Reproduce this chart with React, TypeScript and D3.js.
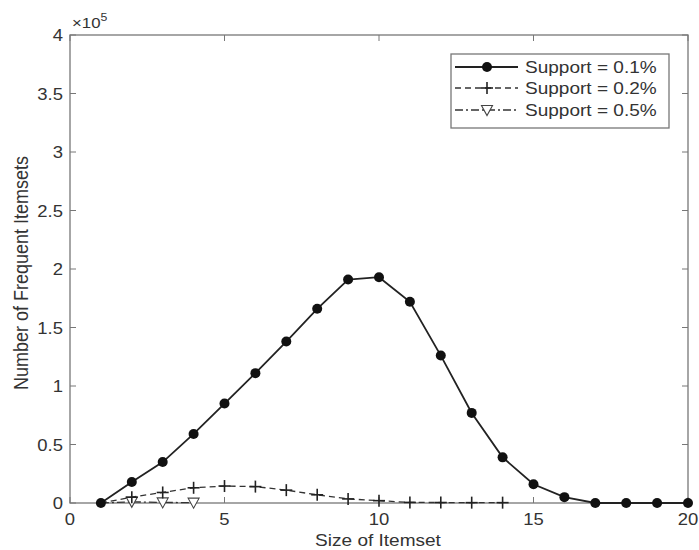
import React from "react";
import * as d3 from "d3";

const sizes = [1, 2, 3, 4, 5, 6, 7, 8, 9, 10, 11, 12, 13, 14, 15, 16, 17, 18, 19, 20];
const support01 = [0, 18000, 35000, 59000, 85000, 111000, 138000, 166000, 191000, 193000, 172000, 126000, 77000, 39000, 16000, 5000, 0, 0, 0, 0];
const sizes02 = [1, 2, 3, 4, 5, 6, 7, 8, 9, 10, 11, 12, 13, 14];
const support02 = [0, 5000, 9000, 13000, 14500, 14000, 11000, 7000, 3500, 2000, 500, 400, 300, 300];
const sizes05 = [1, 2, 3, 4];
const support05 = [0, 1000, 500, 300];
const xTicks = [0, 5, 10, 15, 20];
const yTicks = [0, 50000, 100000, 150000, 200000, 250000, 300000, 350000, 400000];
const yTickLabels = ["0", "0.5", "1", "1.5", "2", "2.5", "3", "3.5", "4"];
const legendLabels = ["Support = 0.1%", "Support = 0.2%", "Support = 0.5%"];

const L = 70, R = 688, T = 35, B = 503;
const FONT = "Liberation Sans, Arial, Helvetica, sans-serif";
const TXT = "#333";
const AX = "#777";
const SX = 1.12;

function T2(props: { x: number; y: number; size: number; anchor?: string; children: React.ReactNode }) {
  return (
    <text
      transform={`translate(${props.x},${props.y}) scale(${SX},1)`}
      textAnchor={props.anchor || "start"}
      fontSize={props.size}
      fill={TXT}
    >
      {props.children}
    </text>
  );
}

export default function App() {
  const x = d3.scaleLinear().domain([0, 20]).range([L, R]);
  const y = d3.scaleLinear().domain([0, 400000]).range([B, T]);
  const line = d3.line<[number, number]>().x(d => x(d[0])).y(d => y(d[1]));
  const s1 = sizes.map((s, i) => [s, support01[i]] as [number, number]);
  const s2 = sizes02.map((s, i) => [s, support02[i]] as [number, number]);
  const s3 = sizes05.map((s, i) => [s, support05[i]] as [number, number]);

  const plus = (cx: number, cy: number, k: string) => (
    <g key={k} stroke="#222" strokeWidth={1.6}>
      <line x1={cx - 6} x2={cx + 6} y1={cy} y2={cy} />
      <line x1={cx} x2={cx} y1={cy - 6} y2={cy + 6} />
    </g>
  );
  const tri = (cx: number, cy: number, k: string) => (
    <path key={k} d={`M${cx - 5.5},${cy - 4.5}L${cx + 5.5},${cy - 4.5}L${cx},${cy + 5.5}Z`} fill="white" stroke="#444" strokeWidth={1.1} />
  );

  const lx0 = 455, lx1 = 518, lmid = 487;
  const ly = [67, 88, 110];

  return (
    <svg width={699} height={550} style={{ position: "absolute", left: 0, top: 0 }} fontFamily={FONT}>
      <rect x={0} y={0} width={699} height={550} fill="white" />
      <rect x={L} y={T} width={R - L} height={B - T} fill="none" stroke={AX} strokeWidth={1.3} />
      {xTicks.map(t => (
        <g key={"xt" + t}>
          <line x1={x(t)} x2={x(t)} y1={B} y2={B - 6} stroke={AX} />
          <line x1={x(t)} x2={x(t)} y1={T} y2={T + 6} stroke={AX} />
          <T2 x={x(t)} y={525} size={16.5} anchor="middle">{t}</T2>
        </g>
      ))}
      {yTicks.map((t, i) => (
        <g key={"yt" + t}>
          <line x1={L} x2={L + 6} y1={y(t)} y2={y(t)} stroke={AX} />
          <line x1={R} x2={R - 6} y1={y(t)} y2={y(t)} stroke={AX} />
          <T2 x={L - 7} y={y(t) + 6} size={16.5} anchor="end">{yTickLabels[i]}</T2>
        </g>
      ))}
      <T2 x={72} y={28} size={15}>×10<tspan dy={-7} fontSize={11}>5</tspan></T2>
      <T2 x={(L + R) / 2 - 1} y={546} size={17} anchor="middle">Size of Itemset</T2>
      <text
        transform={`translate(28,${273}) scale(${SX},1) rotate(-90)`}
        textAnchor="middle"
        fontSize={18}
        fill={TXT}
      >
        Number of Frequent Itemsets
      </text>

      <path d={line(s3) || ""} fill="none" stroke="#333" strokeWidth={1.3} strokeDasharray="8,3,2,3" />
      <path d={line(s2) || ""} fill="none" stroke="#333" strokeWidth={1.3} strokeDasharray="6,4" />
      <path d={line(s1) || ""} fill="none" stroke="#222" strokeWidth={1.8} />
      {s3.slice(1).map((d, i) => tri(x(d[0]), y(d[1]), "t" + i))}
      {s2.slice(1).map((d, i) => plus(x(d[0]), y(d[1]), "p" + i))}
      {s1.map((d, i) => <circle key={"c" + i} cx={x(d[0])} cy={y(d[1])} r={5} fill="#111" />)}

      <rect x={451} y={54} width={218} height={74} fill="white" stroke={AX} strokeWidth={1.3} />
      <line x1={lx0} x2={lx1} y1={ly[0]} y2={ly[0]} stroke="#222" strokeWidth={1.8} />
      <circle cx={lmid} cy={ly[0]} r={5} fill="#111" />
      <line x1={lx0} x2={lx1} y1={ly[1]} y2={ly[1]} stroke="#333" strokeWidth={1.3} strokeDasharray="6,4" />
      {plus(lmid, ly[1], "lp")}
      <line x1={lx0} x2={lx1} y1={ly[2]} y2={ly[2]} stroke="#333" strokeWidth={1.3} strokeDasharray="8,3,2,3" />
      {tri(lmid, ly[2], "lt")}
      {legendLabels.map((l, i) => (
        <T2 key={l} x={525} y={ly[i] + 6} size={17}>{l}</T2>
      ))}
    </svg>
  );
}
